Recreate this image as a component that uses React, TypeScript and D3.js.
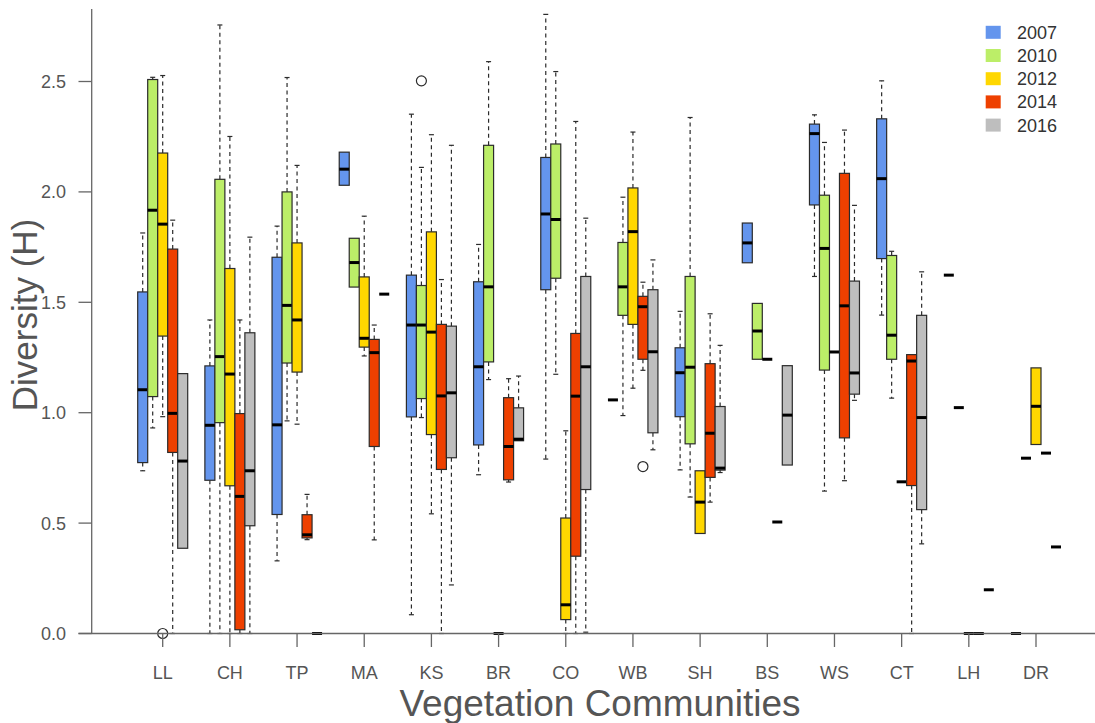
import React from 'react';
import * as d3 from 'd3';

const categories = ['LL', 'CH', 'TP', 'MA', 'KS', 'BR', 'CO', 'WB', 'SH', 'BS', 'WS', 'CT', 'LH', 'DR'];
const years = ['2007', '2010', '2012', '2014', '2016'];
const yearColors = ['#6495ED', '#BCEE68', '#FFD700', '#EE4000', '#BEBEBE'];
const yTicks = [0, 0.5, 1, 1.5, 2, 2.5];

// each entry: [lower whisker, Q1, median, Q3, upper whisker], one per category
const stats2007 = [
  [0.737, 0.774, 1.104, 1.547, 1.814],
  [0, 0.694, 0.943, 1.212, 1.42],
  [0.329, 0.539, 0.945, 1.704, 1.845],
  [2.03, 2.03, 2.103, 2.18, 2.18],
  [0.085, 0.981, 1.397, 1.623, 2.352],
  [0.719, 0.854, 1.208, 1.593, 1.762],
  [0.79, 1.557, 1.9, 2.156, 2.804],
  [1.058, 1.058, 1.058, 1.058, 1.058],
  [0.741, 0.982, 1.181, 1.294, 1.459],
  [1.679, 1.679, 1.769, 1.859, 1.859],
  [1.617, 1.941, 2.264, 2.307, 2.349],
  [1.442, 1.698, 2.06, 2.331, 2.503],
  [1.623, 1.623, 1.623, 1.623, 1.623],
  [0, 0, 0, 0, 0],
];
const stats2010 = [
  [0.931, 1.073, 1.917, 2.509, 2.519],
  [0, 0.955, 1.254, 2.057, 2.756],
  [0.963, 1.225, 1.486, 2.0, 2.518],
  [1.569, 1.569, 1.68, 1.79, 1.79],
  [0.978, 1.064, 1.397, 1.576, 2.111],
  [1.15, 1.23, 1.57, 2.211, 2.59],
  [1.174, 1.609, 1.875, 2.217, 2.545],
  [0.987, 1.441, 1.57, 1.771, 1.976],
  [0.618, 0.859, 1.206, 1.617, 2.337],
  [1.242, 1.242, 1.37, 1.495, 1.495],
  [0.645, 1.193, 1.744, 1.985, 2.224],
  [1.066, 1.242, 1.351, 1.712, 1.731],
  [1.023, 1.023, 1.023, 1.023, 1.023],
  [0.794, 0.794, 0.794, 0.794, 0.794],
];
const stats2012 = [
  [0.982, 1.347, 1.854, 2.176, 2.527],
  [0, 0.669, 1.175, 1.653, 2.251],
  [0.948, 1.184, 1.42, 1.769, 2.12],
  [1.257, 1.297, 1.337, 1.615, 1.89],
  [0.542, 0.901, 1.365, 1.819, 2.259],
  [0, 0, 0, 0, 0],
  [0, 0.063, 0.13, 0.523, 0.918],
  [1.111, 1.4, 1.82, 2.018, 2.271],
  [0.453, 0.453, 0.595, 0.737, 0.737],
  [1.242, 1.242, 1.242, 1.242, 1.242],
  [1.275, 1.275, 1.275, 1.275, 1.275],
  [0.687, 0.687, 0.687, 0.687, 0.687],
  [0, 0, 0, 0, 0],
  [0.856, 0.856, 1.029, 1.203, 1.203],
];
const stats2014 = [
  [0, 0.82, 0.997, 1.741, 1.872],
  [0, 0.017, 0.621, 0.996, 1.42],
  [0.425, 0.433, 0.447, 0.538, 0.63],
  [0.424, 0.847, 1.272, 1.332, 1.397],
  [0, 0.743, 1.076, 1.4, 1.603],
  [0.686, 0.696, 0.847, 1.068, 1.154],
  [0, 0.35, 1.075, 1.359, 2.319],
  [1.192, 1.242, 1.48, 1.527, 1.591],
  [0.595, 0.707, 0.907, 1.222, 1.448],
  [0.505, 0.505, 0.505, 0.505, 0.505],
  [0.692, 0.886, 1.484, 2.084, 2.28],
  [0, 0.67, 1.234, 1.263, 1.263],
  [0, 0, 0, 0, 0],
  [0.817, 0.817, 0.817, 0.817, 0.817],
];
const stats2016 = [
  [0.386, 0.386, 0.781, 1.177, 1.177],
  [0, 0.488, 0.737, 1.362, 1.795],
  [0, 0, 0, 0, 0],
  [1.537, 1.537, 1.537, 1.537, 1.537],
  [0.22, 0.796, 1.09, 1.392, 2.211],
  [0.873, 0.873, 0.88, 1.022, 1.166],
  [0.006, 0.652, 1.208, 1.617, 1.881],
  [0.832, 0.909, 1.276, 1.557, 1.692],
  [0.729, 0.74, 0.749, 1.028, 1.305],
  [0.763, 0.763, 0.989, 1.213, 1.213],
  [1.056, 1.084, 1.18, 1.596, 1.939],
  [0.406, 0.561, 0.978, 1.441, 1.638],
  [0.198, 0.198, 0.198, 0.198, 0.198],
  [0.392, 0.392, 0.392, 0.392, 0.392],
];
const statsByYear = [stats2007, stats2010, stats2012, stats2014, stats2016];

const outlierCats = ['LL', 'KS', 'WB'];
const outlierYears = ['2012', '2010', '2014'];
const outlierValues = [0, 2.503, 0.756];

const W = 1095;
const H = 723;
const axisColor = '#666';
const textColor = '#555';
const lineColor = '#2b2b2b';
const font = '"Liberation Sans", Arial, sans-serif';

const App = () => {
  const x = d3.scalePoint<string>().domain(categories).range([162.7, 1036]);
  const sub = d3.scaleBand<string>().domain(years).range([-25, 25]);
  const y = d3.scaleLinear().domain([0, 2.5]).range([633.5, 81.5]);
  const bw = sub.bandwidth();

  const boxes: any[] = [];
  statsByYear.forEach((arr, yi) => {
    arr.forEach((s, ci) => {
      const left = (x(categories[ci]) as number) + (sub(years[yi]) as number);
      boxes.push({ key: `${yi}-${ci}`, left, s, color: yearColors[yi] });
    });
  });

  return (
    <svg width={W} height={H} style={{ position: 'absolute', left: 0, top: 0, background: '#fff' }}
      fontFamily={font}>
      {boxes.map(({ key, left, s, color }) => {
        const [lo, q1, med, q3, hi] = s;
        const cx = left + bw / 2;
        return (
          <g key={key}>
            {hi > q3 && (
              <>
                <line x1={cx} x2={cx} y1={y(q3)} y2={y(hi)} stroke={lineColor} strokeWidth={1.2} strokeDasharray="4,3.5" />
                <line x1={cx - bw / 4} x2={cx + bw / 4} y1={y(hi)} y2={y(hi)} stroke={lineColor} strokeWidth={1.2} />
              </>
            )}
            {lo < q1 && (
              <>
                <line x1={cx} x2={cx} y1={y(q1)} y2={y(lo)} stroke={lineColor} strokeWidth={1.2} strokeDasharray="4,3.5" />
                <line x1={cx - bw / 4} x2={cx + bw / 4} y1={y(lo)} y2={y(lo)} stroke={lineColor} strokeWidth={1.2} />
              </>
            )}
            {q3 > q1 && (
              <rect x={left} y={y(q3)} width={bw} height={y(q1) - y(q3)} fill={color} stroke={lineColor} strokeWidth={1.2} />
            )}
            <line x1={left} x2={left + bw} y1={y(med)} y2={y(med)} stroke="#000" strokeWidth={3} />
          </g>
        );
      })}
      {outlierValues.map((v, i) => {
        const cx = (x(outlierCats[i]) as number) + (sub(outlierYears[i]) as number) + bw / 2;
        return <circle key={i} cx={cx} cy={y(v)} r={5} fill="none" stroke={lineColor} strokeWidth={1.2} />;
      })}

      {/* axes */}
      <line x1={91.7} x2={91.7} y1={9} y2={y(0)} stroke={axisColor} strokeWidth={1.3} />
      <line x1={78.5} x2={W} y1={y(0)} y2={y(0)} stroke={axisColor} strokeWidth={1.3} />
      {yTicks.map(t => (
        <g key={t}>
          <line x1={78.5} x2={91.7} y1={y(t)} y2={y(t)} stroke={axisColor} strokeWidth={1.3} />
          <text x={66} y={y(t) + 6.5} textAnchor="end" fontSize={18} fill={textColor}>{t.toFixed(1)}</text>
        </g>
      ))}
      {categories.map(c => (
        <g key={c}>
          <line x1={x(c)} x2={x(c)} y1={y(0)} y2={647} stroke={axisColor} strokeWidth={1.3} />
          <text x={x(c)} y={678.5} textAnchor="middle" fontSize={18} fill={textColor}>{c}</text>
        </g>
      ))}
      <text x={600} y={716} textAnchor="middle" fontSize={37} fill={textColor}>Vegetation Communities</text>
      <text transform="translate(37,315) rotate(-90)" textAnchor="middle" fontSize={35} fill={textColor}>Diversity (H)</text>

      {/* legend */}
      {years.map((yr, i) => (
        <g key={yr} transform={`translate(0,${32.3 + i * 23.2})`}>
          <rect x={985.7} y={-6.5} width={15} height={13} fill={yearColors[i]} />
          <text x={1017} y={6.5} fontSize={18} fill="#333">{yr}</text>
        </g>
      ))}
    </svg>
  );
};

export default App;
